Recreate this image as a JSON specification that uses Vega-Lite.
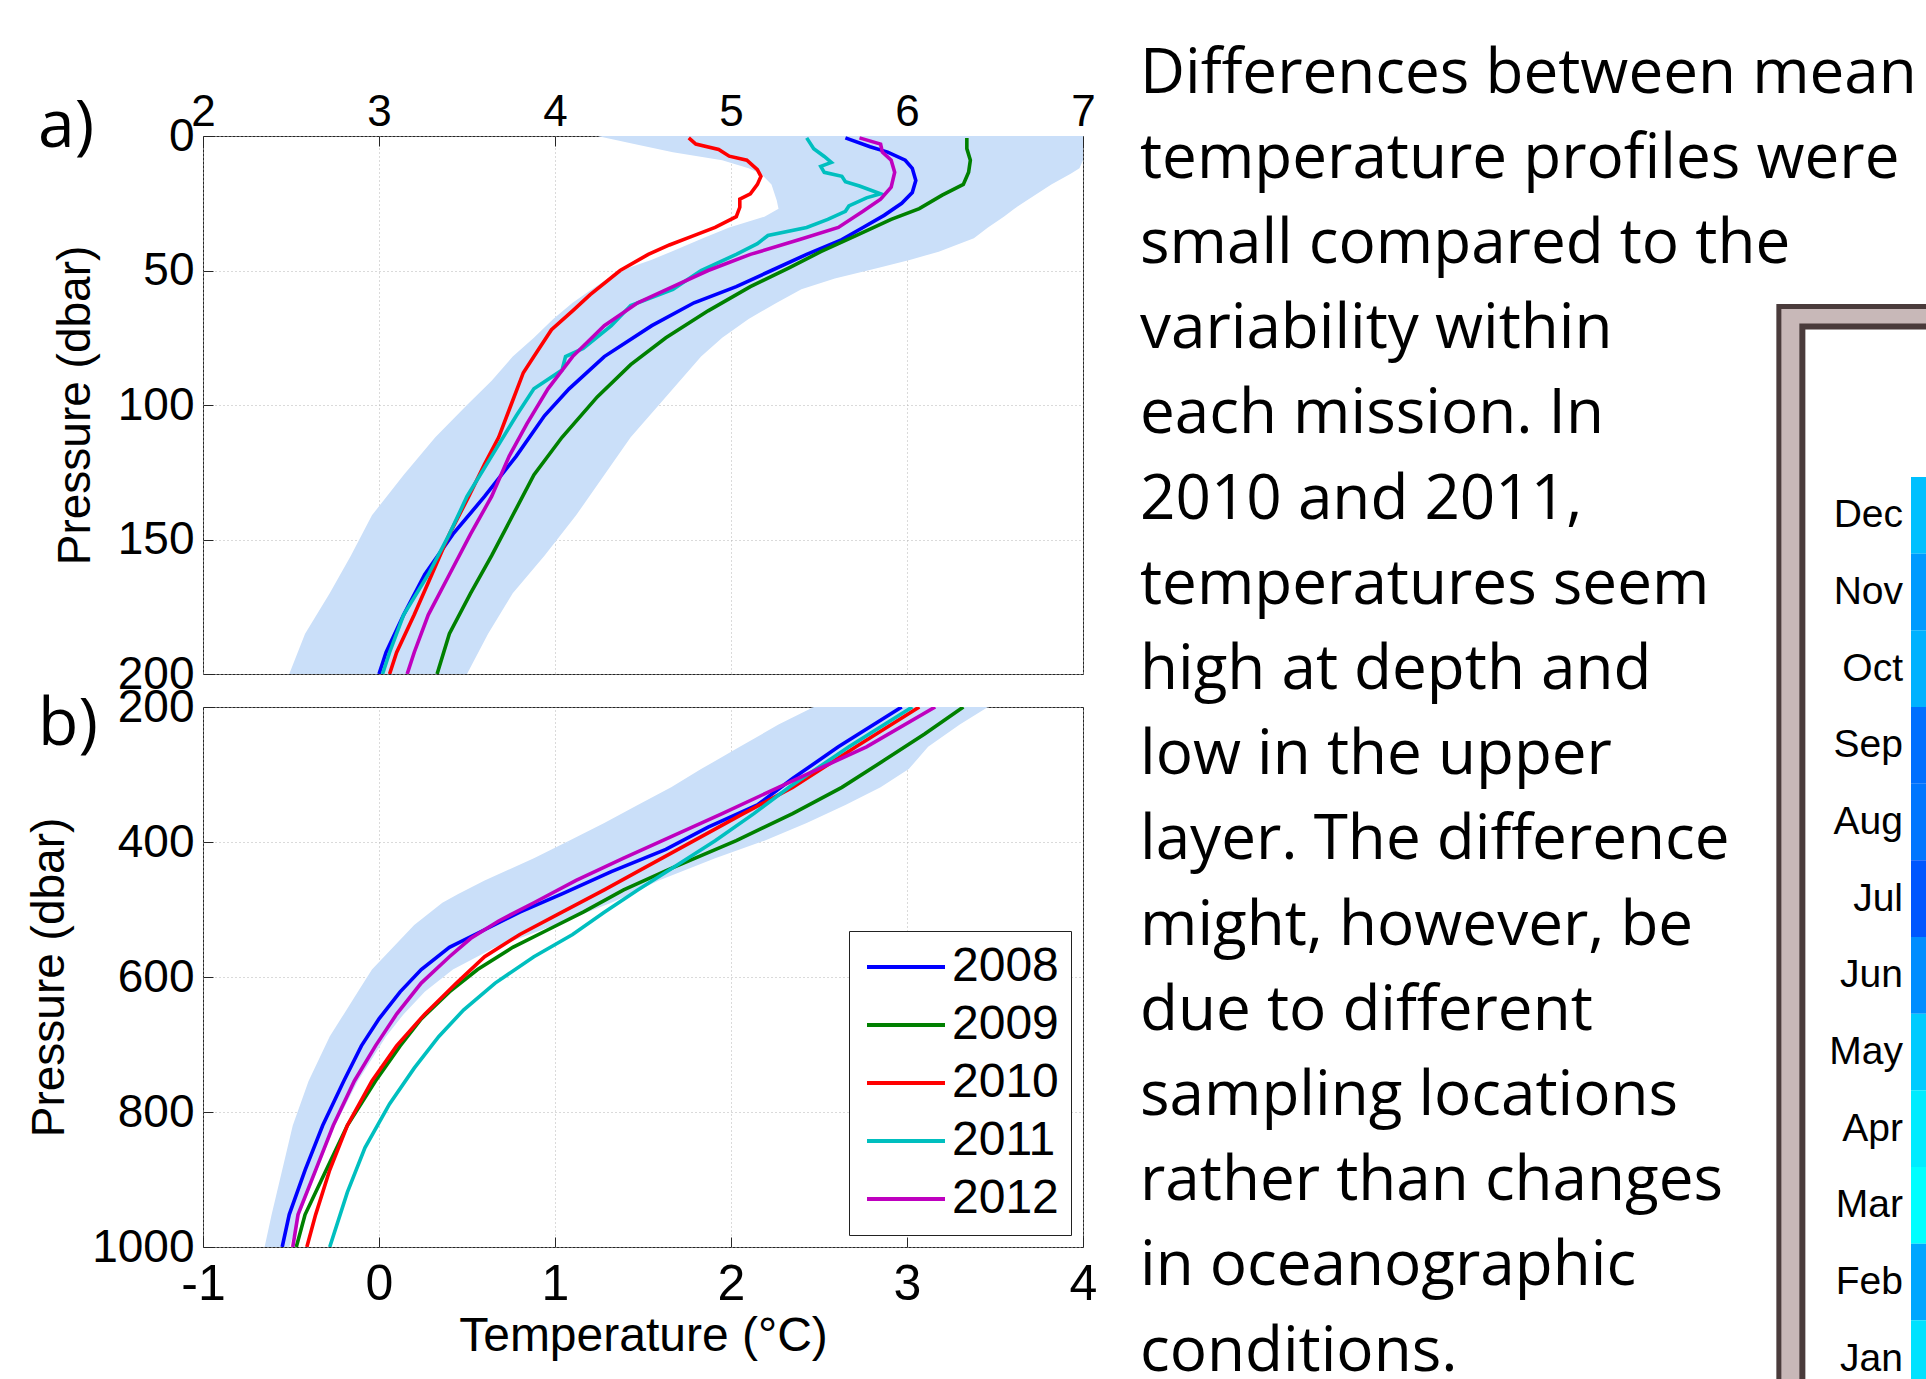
{
  "$schema": "https://vega.github.io/schema/vega-lite/v6.json",
  "padding": {"left": 26, "top": 42, "right": 0, "bottom": 0},
  "background": "white",
  "datasets": {
    "bandA": [
      {"p": 0, "lo": 4.24, "hi": 7.0}, {"p": 3, "lo": 4.45, "hi": 7.0}, {"p": 6, "lo": 4.67, "hi": 7.0},
      {"p": 9, "lo": 4.95, "hi": 7.0}, {"p": 12, "lo": 5.10, "hi": 6.98}, {"p": 14, "lo": 5.17, "hi": 6.93},
      {"p": 18, "lo": 5.23, "hi": 6.82}, {"p": 24, "lo": 5.26, "hi": 6.68}, {"p": 27, "lo": 5.27, "hi": 6.61},
      {"p": 30, "lo": 5.19, "hi": 6.55}, {"p": 34, "lo": 4.99, "hi": 6.46}, {"p": 38, "lo": 4.84, "hi": 6.38},
      {"p": 43, "lo": 4.66, "hi": 6.18}, {"p": 46, "lo": 4.55, "hi": 6.02}, {"p": 49, "lo": 4.42, "hi": 5.84},
      {"p": 53, "lo": 4.30, "hi": 5.59}, {"p": 57, "lo": 4.21, "hi": 5.40}, {"p": 62, "lo": 4.10, "hi": 5.26},
      {"p": 68, "lo": 3.99, "hi": 5.10}, {"p": 75, "lo": 3.88, "hi": 4.95}, {"p": 82, "lo": 3.76, "hi": 4.83},
      {"p": 91, "lo": 3.64, "hi": 4.71}, {"p": 100, "lo": 3.50, "hi": 4.59}, {"p": 112, "lo": 3.32, "hi": 4.43},
      {"p": 126, "lo": 3.14, "hi": 4.28}, {"p": 141, "lo": 2.96, "hi": 4.12}, {"p": 156, "lo": 2.84, "hi": 3.94},
      {"p": 170, "lo": 2.72, "hi": 3.76}, {"p": 185, "lo": 2.58, "hi": 3.62}, {"p": 200, "lo": 2.49, "hi": 3.50}
    ],
    "linesA": [
      {"yr": "2008", "p": 0.7, "t": 5.65}, {"yr": "2008", "p": 4, "t": 5.79}, {"yr": "2008", "p": 6, "t": 5.89},
      {"yr": "2008", "p": 9, "t": 5.99}, {"yr": "2008", "p": 12, "t": 6.03}, {"yr": "2008", "p": 16.5, "t": 6.05},
      {"yr": "2008", "p": 21, "t": 6.03}, {"yr": "2008", "p": 25, "t": 5.97}, {"yr": "2008", "p": 29.5, "t": 5.87},
      {"yr": "2008", "p": 34, "t": 5.75}, {"yr": "2008", "p": 38.5, "t": 5.63}, {"yr": "2008", "p": 44, "t": 5.43},
      {"yr": "2008", "p": 50, "t": 5.23}, {"yr": "2008", "p": 56, "t": 5.03}, {"yr": "2008", "p": 62, "t": 4.79},
      {"yr": "2008", "p": 70.5, "t": 4.55}, {"yr": "2008", "p": 82, "t": 4.28}, {"yr": "2008", "p": 94, "t": 4.08},
      {"yr": "2008", "p": 104, "t": 3.94}, {"yr": "2008", "p": 119, "t": 3.78}, {"yr": "2008", "p": 134, "t": 3.60},
      {"yr": "2008", "p": 148, "t": 3.42}, {"yr": "2008", "p": 163, "t": 3.26}, {"yr": "2008", "p": 178, "t": 3.14},
      {"yr": "2008", "p": 192, "t": 3.04}, {"yr": "2008", "p": 200, "t": 3.00},
      {"yr": "2009", "p": 0.7, "t": 6.34}, {"yr": "2009", "p": 4.7, "t": 6.34}, {"yr": "2009", "p": 9, "t": 6.36},
      {"yr": "2009", "p": 13.5, "t": 6.35}, {"yr": "2009", "p": 18, "t": 6.32}, {"yr": "2009", "p": 22, "t": 6.20},
      {"yr": "2009", "p": 27, "t": 6.07}, {"yr": "2009", "p": 31, "t": 5.91}, {"yr": "2009", "p": 37, "t": 5.71},
      {"yr": "2009", "p": 43, "t": 5.51}, {"yr": "2009", "p": 49, "t": 5.33}, {"yr": "2009", "p": 56, "t": 5.11},
      {"yr": "2009", "p": 65, "t": 4.87}, {"yr": "2009", "p": 75, "t": 4.63}, {"yr": "2009", "p": 85, "t": 4.43},
      {"yr": "2009", "p": 97, "t": 4.24}, {"yr": "2009", "p": 112, "t": 4.04}, {"yr": "2009", "p": 126, "t": 3.88},
      {"yr": "2009", "p": 141, "t": 3.76}, {"yr": "2009", "p": 156, "t": 3.64}, {"yr": "2009", "p": 170, "t": 3.52},
      {"yr": "2009", "p": 185, "t": 3.40}, {"yr": "2009", "p": 200, "t": 3.33},
      {"yr": "2010", "p": 0.7, "t": 4.76}, {"yr": "2010", "p": 3, "t": 4.80}, {"yr": "2010", "p": 5, "t": 4.93},
      {"yr": "2010", "p": 7.5, "t": 4.99}, {"yr": "2010", "p": 9, "t": 5.09}, {"yr": "2010", "p": 12.5, "t": 5.15},
      {"yr": "2010", "p": 15, "t": 5.17}, {"yr": "2010", "p": 18, "t": 5.15}, {"yr": "2010", "p": 21.5, "t": 5.11},
      {"yr": "2010", "p": 23.5, "t": 5.05}, {"yr": "2010", "p": 26.5, "t": 5.05}, {"yr": "2010", "p": 30, "t": 5.03},
      {"yr": "2010", "p": 34, "t": 4.91}, {"yr": "2010", "p": 37.5, "t": 4.77}, {"yr": "2010", "p": 40.5, "t": 4.65},
      {"yr": "2010", "p": 44, "t": 4.53}, {"yr": "2010", "p": 50, "t": 4.37}, {"yr": "2010", "p": 59, "t": 4.20},
      {"yr": "2010", "p": 65, "t": 4.10}, {"yr": "2010", "p": 72, "t": 3.98}, {"yr": "2010", "p": 82, "t": 3.88},
      {"yr": "2010", "p": 88, "t": 3.82}, {"yr": "2010", "p": 100, "t": 3.75}, {"yr": "2010", "p": 112, "t": 3.68},
      {"yr": "2010", "p": 122, "t": 3.60}, {"yr": "2010", "p": 134, "t": 3.51}, {"yr": "2010", "p": 148, "t": 3.40},
      {"yr": "2010", "p": 163, "t": 3.30}, {"yr": "2010", "p": 178, "t": 3.20}, {"yr": "2010", "p": 192, "t": 3.10},
      {"yr": "2010", "p": 200, "t": 3.06},
      {"yr": "2011", "p": 0.7, "t": 5.43}, {"yr": "2011", "p": 4.7, "t": 5.47}, {"yr": "2011", "p": 7.6, "t": 5.53},
      {"yr": "2011", "p": 9.8, "t": 5.57}, {"yr": "2011", "p": 11.3, "t": 5.51}, {"yr": "2011", "p": 13.5, "t": 5.53},
      {"yr": "2011", "p": 15, "t": 5.63}, {"yr": "2011", "p": 17, "t": 5.65}, {"yr": "2011", "p": 18.6, "t": 5.73},
      {"yr": "2011", "p": 21.5, "t": 5.85}, {"yr": "2011", "p": 23, "t": 5.77}, {"yr": "2011", "p": 26, "t": 5.67},
      {"yr": "2011", "p": 28, "t": 5.65}, {"yr": "2011", "p": 31, "t": 5.55}, {"yr": "2011", "p": 34, "t": 5.43},
      {"yr": "2011", "p": 37, "t": 5.21}, {"yr": "2011", "p": 40, "t": 5.15}, {"yr": "2011", "p": 44, "t": 5.03},
      {"yr": "2011", "p": 50, "t": 4.83}, {"yr": "2011", "p": 57, "t": 4.67}, {"yr": "2011", "p": 63, "t": 4.43},
      {"yr": "2011", "p": 70.5, "t": 4.32}, {"yr": "2011", "p": 79, "t": 4.16}, {"yr": "2011", "p": 82, "t": 4.06},
      {"yr": "2011", "p": 87, "t": 4.04}, {"yr": "2011", "p": 94, "t": 3.88}, {"yr": "2011", "p": 104, "t": 3.78},
      {"yr": "2011", "p": 119, "t": 3.64}, {"yr": "2011", "p": 134, "t": 3.50}, {"yr": "2011", "p": 148, "t": 3.40},
      {"yr": "2011", "p": 163, "t": 3.28}, {"yr": "2011", "p": 178, "t": 3.14}, {"yr": "2011", "p": 192, "t": 3.06},
      {"yr": "2011", "p": 200, "t": 3.02},
      {"yr": "2012", "p": 0.7, "t": 5.73}, {"yr": "2012", "p": 3, "t": 5.85}, {"yr": "2012", "p": 6, "t": 5.86},
      {"yr": "2012", "p": 9, "t": 5.91}, {"yr": "2012", "p": 13.5, "t": 5.93}, {"yr": "2012", "p": 19, "t": 5.91},
      {"yr": "2012", "p": 23.5, "t": 5.85}, {"yr": "2012", "p": 28, "t": 5.75}, {"yr": "2012", "p": 34, "t": 5.61},
      {"yr": "2012", "p": 38.5, "t": 5.39}, {"yr": "2012", "p": 44, "t": 5.11}, {"yr": "2012", "p": 50, "t": 4.87},
      {"yr": "2012", "p": 56, "t": 4.67}, {"yr": "2012", "p": 62, "t": 4.47}, {"yr": "2012", "p": 70.5, "t": 4.28},
      {"yr": "2012", "p": 82, "t": 4.10}, {"yr": "2012", "p": 94, "t": 3.96}, {"yr": "2012", "p": 107, "t": 3.84},
      {"yr": "2012", "p": 119, "t": 3.74}, {"yr": "2012", "p": 134, "t": 3.64}, {"yr": "2012", "p": 148, "t": 3.52},
      {"yr": "2012", "p": 163, "t": 3.40}, {"yr": "2012", "p": 178, "t": 3.28}, {"yr": "2012", "p": 192, "t": 3.20},
      {"yr": "2012", "p": 200, "t": 3.16}
    ],
    "bandB": [
      {"p": 200, "lo": 2.47, "hi": 3.46}, {"p": 226, "lo": 2.27, "hi": 3.30}, {"p": 259, "lo": 2.05, "hi": 3.12},
      {"p": 292, "lo": 1.83, "hi": 3.01}, {"p": 319, "lo": 1.66, "hi": 2.85}, {"p": 345, "lo": 1.47, "hi": 2.65},
      {"p": 372, "lo": 1.28, "hi": 2.43}, {"p": 398, "lo": 1.08, "hi": 2.19}, {"p": 424, "lo": 0.88, "hi": 1.91},
      {"p": 457, "lo": 0.60, "hi": 1.59}, {"p": 477, "lo": 0.45, "hi": 1.43}, {"p": 490, "lo": 0.36, "hi": 1.32},
      {"p": 523, "lo": 0.20, "hi": 1.00}, {"p": 556, "lo": 0.08, "hi": 0.66}, {"p": 589, "lo": -0.04, "hi": 0.42},
      {"p": 622, "lo": -0.12, "hi": 0.26}, {"p": 655, "lo": -0.20, "hi": 0.14}, {"p": 688, "lo": -0.28, "hi": 0.04},
      {"p": 754, "lo": -0.40, "hi": -0.12}, {"p": 820, "lo": -0.49, "hi": -0.25}, {"p": 886, "lo": -0.55, "hi": -0.35},
      {"p": 952, "lo": -0.61, "hi": -0.45}, {"p": 1000, "lo": -0.65, "hi": -0.51}
    ],
    "linesB": [
      {"yr": "2008", "p": 200, "t": 2.97}, {"yr": "2008", "p": 259, "t": 2.61}, {"yr": "2008", "p": 306, "t": 2.35},
      {"yr": "2008", "p": 345, "t": 2.15}, {"yr": "2008", "p": 378, "t": 1.87}, {"yr": "2008", "p": 411, "t": 1.63},
      {"yr": "2008", "p": 444, "t": 1.32}, {"yr": "2008", "p": 477, "t": 1.04}, {"yr": "2008", "p": 504, "t": 0.80},
      {"yr": "2008", "p": 530, "t": 0.60}, {"yr": "2008", "p": 556, "t": 0.40}, {"yr": "2008", "p": 589, "t": 0.24},
      {"yr": "2008", "p": 622, "t": 0.12}, {"yr": "2008", "p": 662, "t": 0.00}, {"yr": "2008", "p": 702, "t": -0.10},
      {"yr": "2008", "p": 754, "t": -0.20}, {"yr": "2008", "p": 820, "t": -0.32}, {"yr": "2008", "p": 886, "t": -0.42},
      {"yr": "2008", "p": 952, "t": -0.51}, {"yr": "2008", "p": 1000, "t": -0.55},
      {"yr": "2009", "p": 200, "t": 3.32}, {"yr": "2009", "p": 240, "t": 3.10}, {"yr": "2009", "p": 279, "t": 2.87},
      {"yr": "2009", "p": 319, "t": 2.63}, {"yr": "2009", "p": 358, "t": 2.35}, {"yr": "2009", "p": 398, "t": 2.03},
      {"yr": "2009", "p": 438, "t": 1.67}, {"yr": "2009", "p": 471, "t": 1.39}, {"yr": "2009", "p": 504, "t": 1.16},
      {"yr": "2009", "p": 530, "t": 0.96}, {"yr": "2009", "p": 556, "t": 0.76}, {"yr": "2009", "p": 589, "t": 0.56},
      {"yr": "2009", "p": 622, "t": 0.40}, {"yr": "2009", "p": 662, "t": 0.24}, {"yr": "2009", "p": 702, "t": 0.12},
      {"yr": "2009", "p": 754, "t": -0.02}, {"yr": "2009", "p": 820, "t": -0.18}, {"yr": "2009", "p": 886, "t": -0.30},
      {"yr": "2009", "p": 952, "t": -0.42}, {"yr": "2009", "p": 1000, "t": -0.47},
      {"yr": "2010", "p": 200, "t": 3.07}, {"yr": "2010", "p": 259, "t": 2.71}, {"yr": "2010", "p": 319, "t": 2.35},
      {"yr": "2010", "p": 358, "t": 2.07}, {"yr": "2010", "p": 398, "t": 1.79}, {"yr": "2010", "p": 438, "t": 1.51},
      {"yr": "2010", "p": 471, "t": 1.28}, {"yr": "2010", "p": 504, "t": 1.04}, {"yr": "2010", "p": 537, "t": 0.80},
      {"yr": "2010", "p": 570, "t": 0.60}, {"yr": "2010", "p": 609, "t": 0.44}, {"yr": "2010", "p": 655, "t": 0.26},
      {"yr": "2010", "p": 702, "t": 0.10}, {"yr": "2010", "p": 754, "t": -0.04}, {"yr": "2010", "p": 820, "t": -0.18},
      {"yr": "2010", "p": 886, "t": -0.28}, {"yr": "2010", "p": 952, "t": -0.36}, {"yr": "2010", "p": 1000, "t": -0.41},
      {"yr": "2011", "p": 200, "t": 3.03}, {"yr": "2011", "p": 259, "t": 2.67}, {"yr": "2011", "p": 319, "t": 2.33},
      {"yr": "2011", "p": 358, "t": 2.13}, {"yr": "2011", "p": 398, "t": 1.91}, {"yr": "2011", "p": 438, "t": 1.67},
      {"yr": "2011", "p": 471, "t": 1.47}, {"yr": "2011", "p": 504, "t": 1.28}, {"yr": "2011", "p": 537, "t": 1.10},
      {"yr": "2011", "p": 570, "t": 0.88}, {"yr": "2011", "p": 609, "t": 0.66}, {"yr": "2011", "p": 649, "t": 0.48},
      {"yr": "2011", "p": 688, "t": 0.34}, {"yr": "2011", "p": 735, "t": 0.20}, {"yr": "2011", "p": 788, "t": 0.06},
      {"yr": "2011", "p": 853, "t": -0.08}, {"yr": "2011", "p": 919, "t": -0.18}, {"yr": "2011", "p": 1000, "t": -0.28},
      {"yr": "2012", "p": 200, "t": 3.16}, {"yr": "2012", "p": 259, "t": 2.77}, {"yr": "2012", "p": 319, "t": 2.27},
      {"yr": "2012", "p": 358, "t": 1.95}, {"yr": "2012", "p": 391, "t": 1.67}, {"yr": "2012", "p": 424, "t": 1.39},
      {"yr": "2012", "p": 457, "t": 1.12}, {"yr": "2012", "p": 490, "t": 0.88}, {"yr": "2012", "p": 517, "t": 0.68},
      {"yr": "2012", "p": 543, "t": 0.52}, {"yr": "2012", "p": 570, "t": 0.40}, {"yr": "2012", "p": 609, "t": 0.24},
      {"yr": "2012", "p": 655, "t": 0.10}, {"yr": "2012", "p": 702, "t": -0.02}, {"yr": "2012", "p": 754, "t": -0.14},
      {"yr": "2012", "p": 820, "t": -0.26}, {"yr": "2012", "p": 886, "t": -0.36}, {"yr": "2012", "p": 952, "t": -0.46},
      {"yr": "2012", "p": 1000, "t": -0.49}
    ],
    "prose": [
      {"line": 1, "text": "Differences between mean"},
      {"line": 2, "text": "temperature profiles were"},
      {"line": 3, "text": "small compared to the"},
      {"line": 4, "text": "variability within"},
      {"line": 5, "text": "each mission. In"},
      {"line": 6, "text": "2010 and 2011,"},
      {"line": 7, "text": "temperatures seem"},
      {"line": 8, "text": "high at depth and"},
      {"line": 9, "text": "low in the upper"},
      {"line": 10, "text": "layer. The difference"},
      {"line": 11, "text": "might, however, be"},
      {"line": 12, "text": "due to different"},
      {"line": 13, "text": "sampling locations"},
      {"line": 14, "text": "rather than changes"},
      {"line": 15, "text": "in oceanographic"},
      {"line": 16, "text": "conditions."}
    ],
    "months": [
      {"m": "Dec", "v": 0.63}, {"m": "Nov", "v": 0.44}, {"m": "Oct", "v": 0.56}, {"m": "Sep", "v": 0.25},
      {"m": "Aug", "v": 0.28}, {"m": "Jul", "v": 0.16}, {"m": "Jun", "v": 0.38}, {"m": "May", "v": 0.69},
      {"m": "Apr", "v": 0.88}, {"m": "Mar", "v": 1.0}, {"m": "Feb", "v": 0.5}, {"m": "Jan", "v": 0.82}
    ]
  },
  "concat": [
    {
      "width": 880,
      "height": 538,
      "title": {"text": "a)", "orient": "top", "anchor": "start", "frame": "group", "dx": -165, "dy": 123, "offset": 0, "font": "Open Sans", "fontSize": 66, "fontWeight": "normal", "baseline": "alphabetic", "color": "black"},
      "layer": [
        {
          "data": {"name": "bandA"},
          "mark": {"type": "area", "orient": "horizontal", "color": "#cadff9", "clip": true},
          "encoding": {
            "y": {"field": "p", "type": "quantitative", "scale": {"domain": [0, 200], "reverse": true, "nice": false, "zero": false},
                  "axis": {"values": [0, 50, 100, 150, 200], "labelExpr": "'' + datum.value", "title": "Pressure (dbar)", "titlePadding": 18, "labelFontSize": 46, "labelPadding": 19}},
            "x": {"field": "lo", "type": "quantitative", "scale": {"domain": [2, 7], "nice": false, "zero": false},
                  "axis": {"orient": "top", "values": [2, 3, 4, 5, 6, 7], "labelExpr": "'' + datum.value", "title": null, "labelFontSize": 44, "labelPadding": 12}},
            "x2": {"field": "hi"}
          }
        },
        {
          "data": {"name": "linesA"},
          "mark": {"type": "line", "strokeWidth": 3.6, "clip": true},
          "encoding": {
            "y": {"field": "p", "type": "quantitative"},
            "x": {"field": "t", "type": "quantitative"},
            "color": {"field": "yr", "type": "nominal", "scale": {"domain": ["2008", "2009", "2010", "2011", "2012"], "range": ["#0000ff", "#008000", "#ff0000", "#00bfbf", "#bf00bf"]}, "legend": null},
            "order": {"field": "p", "type": "quantitative"}
          }
        }
      ]
    },
    {
      "width": 786,
      "height": 538,
      "view": {"stroke": null},
      "resolve": {"scale": {"x": "independent", "y": "independent", "color": "independent"}, "axis": {"x": "independent", "y": "independent"}},
      "layer": [
        {
          "layer": [
            {
              "data": {"values": [{"part": "frame"}]},
              "mark": {"type": "rect", "fill": "#c8b8b8", "stroke": "#4a3b3b", "strokeWidth": 5},
              "encoding": {
                "x": {"datum": 0.8128, "type": "quantitative", "scale": {"domain": [0, 1], "nice": false, "zero": false}, "axis": null},
                "x2": {"datum": 1.4},
                "y": {"datum": 3.5112, "type": "quantitative", "scale": {"domain": [1.51, 7.8245], "reverse": true, "nice": false, "zero": false}, "axis": null},
                "y2": {"datum": 18}
              }
            },
            {
              "data": {"values": [{"part": "panel"}]},
              "mark": {"type": "rect", "fill": "white", "stroke": "#4a3b3b", "strokeWidth": 6},
              "encoding": {
                "x": {"datum": 0.8427, "type": "quantitative"},
                "x2": {"datum": 1.4},
                "y": {"datum": 3.7459, "type": "quantitative"},
                "y2": {"datum": 18}
              }
            },
            {
              "data": {"name": "prose"},
              "mark": {"type": "text", "align": "left", "baseline": "alphabetic", "font": "Open Sans", "fontSize": 62, "color": "black"},
              "encoding": {
                "x": {"datum": 0, "type": "quantitative"},
                "y": {"field": "line", "type": "quantitative"},
                "text": {"field": "text"}
              }
            }
          ]
        },
        {
          "data": {"name": "months"},
          "layer": [
            {
              "mark": {"type": "rect"},
              "encoding": {
                "x": {"datum": "c", "type": "nominal", "scale": {"type": "band", "domain": ["c"], "range": [771, 900], "paddingInner": 0, "paddingOuter": 0}, "axis": null},
                "y": {"field": "m", "type": "nominal", "sort": ["Dec", "Nov", "Oct", "Sep", "Aug", "Jul", "Jun", "May", "Apr", "Mar", "Feb", "Jan"], "scale": {"type": "band", "range": [341, 1261], "paddingInner": 0, "paddingOuter": 0}, "axis": null},
                "color": {"field": "v", "type": "quantitative", "scale": {"domain": [0, 1], "range": ["#0000ff", "#00ffff"]}, "legend": null}
              }
            },
            {
              "mark": {"type": "text", "align": "right", "baseline": "middle", "dx": -8, "font": "Liberation Sans", "fontSize": 39, "color": "black"},
              "encoding": {
                "x": {"datum": "c", "type": "nominal", "bandPosition": 0},
                "y": {"field": "m", "type": "nominal", "sort": ["Dec", "Nov", "Oct", "Sep", "Aug", "Jul", "Jun", "May", "Apr", "Mar", "Feb", "Jan"]},
                "text": {"field": "m"}
              }
            }
          ]
        }
      ]
    },
    {
      "width": 880,
      "height": 540,
      "title": {"text": "b)", "orient": "top", "anchor": "start", "frame": "group", "dx": -165, "dy": 127, "offset": 0, "font": "Open Sans", "fontSize": 66, "fontWeight": "normal", "baseline": "alphabetic", "color": "black"},
      "layer": [
        {
          "data": {"name": "bandB"},
          "mark": {"type": "area", "orient": "horizontal", "color": "#cadff9", "clip": true},
          "encoding": {
            "y": {"field": "p", "type": "quantitative", "scale": {"domain": [200, 1000], "reverse": true, "nice": false, "zero": false},
                  "axis": {"values": [200, 400, 600, 800, 1000], "labelExpr": "'' + datum.value", "title": "Pressure (dbar)", "titlePadding": 18, "labelFontSize": 46, "labelPadding": 19}},
            "x": {"field": "lo", "type": "quantitative", "scale": {"domain": [-1, 4], "nice": false, "zero": false},
                  "axis": {"orient": "bottom", "values": [-1, 0, 1, 2, 3, 4], "labelExpr": "'' + datum.value", "title": "Temperature (°C)", "labelFontSize": 50, "titleFontSize": 48, "titlePadding": 3, "labelPadding": 22}},
            "x2": {"field": "hi"}
          }
        },
        {
          "data": {"name": "linesB"},
          "mark": {"type": "line", "strokeWidth": 3.6, "clip": true},
          "encoding": {
            "y": {"field": "p", "type": "quantitative"},
            "x": {"field": "t", "type": "quantitative"},
            "color": {"field": "yr", "type": "nominal", "scale": {"domain": ["2008", "2009", "2010", "2011", "2012"], "range": ["#0000ff", "#008000", "#ff0000", "#00bfbf", "#bf00bf"]},
                      "legend": {"orient": "bottom-right", "offset": 12, "title": null, "symbolType": "M-2.4375,0H2.4375", "symbolSize": 1024, "symbolOffset": 21, "symbolStrokeWidth": 4, "symbolFillColor": "transparent", "labelFont": "Liberation Sans", "labelFontSize": 48, "labelColor": "black", "labelOffset": 22, "padding": 12, "rowPadding": 10, "fillColor": "white", "strokeColor": "#222222", "labelLimit": 400}},
            "order": {"field": "p", "type": "quantitative"}
          }
        }
      ]
    }
  ],
  "columns": 2,
  "spacing": {"row": 33, "column": 57},
  "bounds": "flush",
  "resolve": {"scale": {"color": "independent"}, "legend": {"color": "independent"}},
  "config": {
    "font": "Liberation Sans",
    "view": {"stroke": "#262626", "strokeWidth": 1},
    "axis": {
      "domain": false, "grid": true, "gridColor": "#b5b5b5", "gridDash": [1, 3], "gridWidth": 1,
      "ticks": true, "tickSize": -10, "tickColor": "#262626", "tickWidth": 1,
      "labelFont": "Liberation Sans", "labelFontSize": 44, "labelColor": "black", "labelPadding": 10,
      "labelFlush": false, "labelOverlap": false, "labelBound": false,
      "titleFont": "Liberation Sans", "titleFontSize": 46, "titleFontWeight": "normal", "titleColor": "black"
    }
  }
}
